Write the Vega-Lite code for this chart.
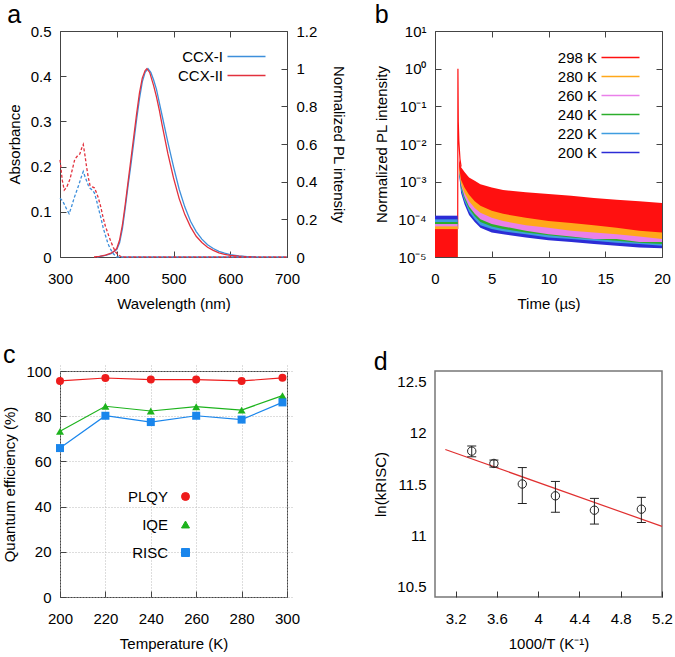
{
  "$schema": "https://vega.github.io/schema/vega-lite/v6.json",
  "background": "white",
  "padding": {"left": 2, "top": 2, "right": 0, "bottom": 0},
  "columns": 2,
  "spacing": {"row": 30, "column": 26},
  "resolve": {"scale": {"color": "independent", "shape": "independent", "fill": "independent", "stroke": "independent"}},
  "config": {
    "font": "Liberation Sans",
    "view": {"stroke": "#444", "strokeWidth": 1},
    "title": {"fontSize": 25, "fontWeight": "normal", "anchor": "start", "frame": "bounds", "offset": -4, "color": "#000"},
    "axis": {"domain": false, "grid": false, "tickColor": "#444", "tickSize": 6, "offset": -6, "tickWidth": 1, "labelFontSize": 15, "titleFontSize": 15, "titleFontWeight": "normal", "labelColor": "#000", "titleColor": "#000", "labelFlush": false, "labelOverlap": false, "labelPadding": 9, "titlePadding": 8},
    "axisX": {"labelPadding": 14, "titlePadding": 10},
    "legend": {"labelFontSize": 15, "labelColor": "#000", "padding": 0}
  },
  "concat": [
    {
      "width": 227, "height": 226,
      "title": {"text": "a"},
      "layer": [
        {
          "data": {"values": [
            {"s":"CCX-I","wl":365,"I":0},{"s":"CCX-I","wl":380,"I":0.008},{"s":"CCX-I","wl":390,"I":0.018},{"s":"CCX-I","wl":400,"I":0.04},{"s":"CCX-I","wl":405,"I":0.075},{"s":"CCX-I","wl":410,"I":0.15},{"s":"CCX-I","wl":415,"I":0.26},{"s":"CCX-I","wl":420,"I":0.38},{"s":"CCX-I","wl":425,"I":0.49},{"s":"CCX-I","wl":430,"I":0.61},{"s":"CCX-I","wl":435,"I":0.73},{"s":"CCX-I","wl":440,"I":0.84},{"s":"CCX-I","wl":445,"I":0.93},{"s":"CCX-I","wl":450,"I":0.98},{"s":"CCX-I","wl":455,"I":1.0},{"s":"CCX-I","wl":460,"I":0.98},{"s":"CCX-I","wl":465,"I":0.94},{"s":"CCX-I","wl":470,"I":0.89},{"s":"CCX-I","wl":475,"I":0.82},{"s":"CCX-I","wl":480,"I":0.75},{"s":"CCX-I","wl":490,"I":0.61},{"s":"CCX-I","wl":500,"I":0.48},{"s":"CCX-I","wl":510,"I":0.36},{"s":"CCX-I","wl":520,"I":0.265},{"s":"CCX-I","wl":530,"I":0.19},{"s":"CCX-I","wl":540,"I":0.135},{"s":"CCX-I","wl":550,"I":0.095},{"s":"CCX-I","wl":560,"I":0.065},{"s":"CCX-I","wl":570,"I":0.045},{"s":"CCX-I","wl":580,"I":0.03},{"s":"CCX-I","wl":590,"I":0.02},{"s":"CCX-I","wl":600,"I":0.013},{"s":"CCX-I","wl":615,"I":0.006},{"s":"CCX-I","wl":630,"I":0.002},{"s":"CCX-I","wl":645,"I":0},
            {"s":"CCX-II","wl":360,"I":0},{"s":"CCX-II","wl":370,"I":0.003},{"s":"CCX-II","wl":380,"I":0.01},{"s":"CCX-II","wl":390,"I":0.02},{"s":"CCX-II","wl":395,"I":0.03},{"s":"CCX-II","wl":400,"I":0.045},{"s":"CCX-II","wl":405,"I":0.09},{"s":"CCX-II","wl":410,"I":0.17},{"s":"CCX-II","wl":415,"I":0.28},{"s":"CCX-II","wl":420,"I":0.4},{"s":"CCX-II","wl":425,"I":0.52},{"s":"CCX-II","wl":430,"I":0.64},{"s":"CCX-II","wl":435,"I":0.76},{"s":"CCX-II","wl":440,"I":0.87},{"s":"CCX-II","wl":445,"I":0.95},{"s":"CCX-II","wl":450,"I":0.99},{"s":"CCX-II","wl":453,"I":1.0},{"s":"CCX-II","wl":458,"I":0.98},{"s":"CCX-II","wl":465,"I":0.91},{"s":"CCX-II","wl":470,"I":0.85},{"s":"CCX-II","wl":475,"I":0.78},{"s":"CCX-II","wl":480,"I":0.7},{"s":"CCX-II","wl":490,"I":0.55},{"s":"CCX-II","wl":500,"I":0.42},{"s":"CCX-II","wl":510,"I":0.31},{"s":"CCX-II","wl":520,"I":0.225},{"s":"CCX-II","wl":530,"I":0.16},{"s":"CCX-II","wl":540,"I":0.11},{"s":"CCX-II","wl":550,"I":0.077},{"s":"CCX-II","wl":560,"I":0.052},{"s":"CCX-II","wl":570,"I":0.035},{"s":"CCX-II","wl":580,"I":0.022},{"s":"CCX-II","wl":590,"I":0.014},{"s":"CCX-II","wl":600,"I":0.009},{"s":"CCX-II","wl":615,"I":0.004},{"s":"CCX-II","wl":630,"I":0.001},{"s":"CCX-II","wl":640,"I":0}
          ]},
          "mark": {"type": "line", "strokeWidth": 1.3},
          "encoding": {
            "x": {"field": "wl", "type": "quantitative", "scale": {"domain": [300, 700]}, "axis": {"values": [300, 400, 500, 600, 700], "title": "Wavelength (nm)"}},
            "y": {"field": "I", "type": "quantitative", "scale": {"domain": [0, 1.2]}, "axis": {"orient": "right", "values": [0, 0.2, 0.4, 0.6, 0.8, 1, 1.2], "title": "Normalized PL intensity", "titlePadding": 14, "labelExpr": "'' + datum.value"}},
            "color": {"field": "s", "type": "nominal", "scale": {"domain": ["CCX-I", "CCX-II"], "range": ["#3d8fdb", "#e2313d"]},
              "legend": {"orient": "top-right", "offset": 18, "title": null, "symbolType": "M-3.8,0L3.8,0", "symbolSize": 100, "symbolStrokeWidth": 1.5, "labelAlign": "right", "labelOffset": -31, "rowPadding": 3}}
          }
        },
        {
          "data": {"values": [
            {"s":"CCX-I","wl":300,"A":0.13},{"s":"CCX-I","wl":304,"A":0.125},{"s":"CCX-I","wl":307.5,"A":0.117},{"s":"CCX-I","wl":312,"A":0.105},{"s":"CCX-I","wl":316,"A":0.096},{"s":"CCX-I","wl":320,"A":0.11},{"s":"CCX-I","wl":325,"A":0.131},{"s":"CCX-I","wl":329,"A":0.145},{"s":"CCX-I","wl":333.5,"A":0.161},{"s":"CCX-I","wl":337,"A":0.175},{"s":"CCX-I","wl":341,"A":0.189},{"s":"CCX-I","wl":344,"A":0.178},{"s":"CCX-I","wl":347,"A":0.168},{"s":"CCX-I","wl":350,"A":0.158},{"s":"CCX-I","wl":353,"A":0.152},{"s":"CCX-I","wl":357,"A":0.148},{"s":"CCX-I","wl":360.5,"A":0.142},{"s":"CCX-I","wl":364,"A":0.127},{"s":"CCX-I","wl":367.5,"A":0.109},{"s":"CCX-I","wl":372,"A":0.087},{"s":"CCX-I","wl":376,"A":0.065},{"s":"CCX-I","wl":380,"A":0.048},{"s":"CCX-I","wl":385,"A":0.028},{"s":"CCX-I","wl":390,"A":0.015},{"s":"CCX-I","wl":394,"A":0.007},{"s":"CCX-I","wl":400,"A":0},{"s":"CCX-I","wl":500,"A":0},{"s":"CCX-I","wl":700,"A":0},
            {"s":"CCX-II","wl":300,"A":0.215},{"s":"CCX-II","wl":304,"A":0.17},{"s":"CCX-II","wl":307.5,"A":0.148},{"s":"CCX-II","wl":312,"A":0.155},{"s":"CCX-II","wl":317.5,"A":0.172},{"s":"CCX-II","wl":322,"A":0.195},{"s":"CCX-II","wl":326,"A":0.216},{"s":"CCX-II","wl":331,"A":0.224},{"s":"CCX-II","wl":335,"A":0.228},{"s":"CCX-II","wl":338,"A":0.24},{"s":"CCX-II","wl":341,"A":0.249},{"s":"CCX-II","wl":344,"A":0.225},{"s":"CCX-II","wl":347,"A":0.198},{"s":"CCX-II","wl":350,"A":0.175},{"s":"CCX-II","wl":353,"A":0.158},{"s":"CCX-II","wl":357,"A":0.155},{"s":"CCX-II","wl":360.5,"A":0.153},{"s":"CCX-II","wl":364,"A":0.143},{"s":"CCX-II","wl":367.5,"A":0.131},{"s":"CCX-II","wl":372,"A":0.11},{"s":"CCX-II","wl":376,"A":0.087},{"s":"CCX-II","wl":380,"A":0.068},{"s":"CCX-II","wl":385,"A":0.05},{"s":"CCX-II","wl":390,"A":0.033},{"s":"CCX-II","wl":394,"A":0.021},{"s":"CCX-II","wl":398,"A":0.011},{"s":"CCX-II","wl":403,"A":0.004},{"s":"CCX-II","wl":409,"A":0},{"s":"CCX-II","wl":500,"A":0},{"s":"CCX-II","wl":700,"A":0}
          ]},
          "mark": {"type": "line", "strokeDash": [3, 2], "strokeWidth": 1.3},
          "encoding": {
            "x": {"field": "wl", "type": "quantitative", "axis": {"orient": "top", "values": [300, 400, 500, 600, 700], "labels": false, "title": null}},
            "y": {"field": "A", "type": "quantitative", "scale": {"domain": [0, 0.5]}, "axis": {"orient": "left", "values": [0, 0.1, 0.2, 0.3, 0.4, 0.5], "title": "Absorbance", "labelExpr": "'' + datum.value"}},
            "color": {"field": "s", "type": "nominal",
              "legend": {"orient": "top-right", "offset": 18, "title": null, "symbolType": "M-3.8,0L3.8,0", "symbolSize": 100, "symbolStrokeWidth": 1.5, "labelAlign": "right", "labelOffset": -31, "rowPadding": 3}}
          }
        }
      ],
      "resolve": {"scale": {"y": "independent"}, "axis": {"x": "independent"}}
    },
    {
      "width": 227, "height": 226,
      "title": {"text": "b"},
      "layer": [
        {
          "data": {"values": [
            {"s":"298 K","t":2.0,"v":5.5e-5},{"s":"298 K","t":2.02,"v":1.0},{"s":"298 K","t":2.05,"v":0.04},{"s":"298 K","t":2.1,"v":0.012},{"s":"298 K","t":2.2,"v":0.004},{"s":"298 K","t":2.3,"v":0.0025}
          ]},
          "mark": {"type": "line", "strokeWidth": 1.2},
          "encoding": {
            "x": {"field": "t", "type": "quantitative", "scale": {"domain": [0, 20]}, "axis": {"values": [0, 5, 10, 15, 20], "title": "Time (µs)"}},
            "y": {"field": "v", "type": "quantitative", "scale": {"type": "log", "domain": [0.00001, 10]}, "axis": {"values": [0.00001, 0.0001, 0.001, 0.01, 0.1, 1, 10], "title": "Normalized PL intensity", "labelExpr": "['10⁻⁵','10⁻⁴','10⁻³','10⁻²','10⁻¹','10⁰','10¹'][round(log(datum.value)/LN10)+5]"}},
            "color": {"field": "s", "type": "nominal", "scale": {"domain": ["298 K", "280 K", "260 K", "240 K", "220 K", "200 K"], "range": ["#ff1010", "#ffa81a", "#ea80ea", "#2cae2c", "#3f9de0", "#2c2cd6"]},
              "legend": {"orient": "top-right", "offset": 19, "title": null, "symbolType": "M-3.8,0L3.8,0", "symbolSize": 100, "symbolStrokeWidth": 1.5, "labelAlign": "right", "labelOffset": -31, "rowPadding": 3}}
          }
        },
        {
          "data": {"values": [
            {"s":"200 K","seg":"p","t":0,"lo":1e-5,"hi":1.25e-4},{"s":"200 K","seg":"p","t":2.0,"lo":1e-5,"hi":1.25e-4},
            {"s":"200 K","seg":"d","t":2.12,"lo":1.6e-3,"hi":2.6e-3},{"s":"200 K","seg":"d","t":2.3,"lo":5e-4,"hi":1.7e-3},{"s":"200 K","seg":"d","t":2.6,"lo":2.5e-4,"hi":1.1e-3},{"s":"200 K","seg":"d","t":3,"lo":1.3e-4,"hi":7e-4},{"s":"200 K","seg":"d","t":3.5,"lo":8.5e-5,"hi":4.5e-4},{"s":"200 K","seg":"d","t":4,"lo":6e-5,"hi":3.3e-4},{"s":"200 K","seg":"d","t":5,"lo":4.5e-5,"hi":2.3e-4},{"s":"200 K","seg":"d","t":6,"lo":4e-5,"hi":2e-4},{"s":"200 K","seg":"d","t":8,"lo":3.3e-5,"hi":1.7e-4},{"s":"200 K","seg":"d","t":10,"lo":2.8e-5,"hi":1.55e-4},{"s":"200 K","seg":"d","t":12,"lo":2.5e-5,"hi":1.45e-4},{"s":"200 K","seg":"d","t":14,"lo":2.2e-5,"hi":1.4e-4},{"s":"200 K","seg":"d","t":16,"lo":2e-5,"hi":1.35e-4},{"s":"200 K","seg":"d","t":18,"lo":1.8e-5,"hi":1.3e-4},{"s":"200 K","seg":"d","t":20,"lo":1.7e-5,"hi":1.25e-4},
            {"s":"220 K","seg":"p","t":0,"lo":1e-5,"hi":1e-4},{"s":"220 K","seg":"p","t":2.0,"lo":1e-5,"hi":1e-4},
            {"s":"220 K","seg":"d","t":2.12,"lo":1.7e-3,"hi":2.7e-3},{"s":"220 K","seg":"d","t":2.3,"lo":6e-4,"hi":1.8e-3},{"s":"220 K","seg":"d","t":2.6,"lo":3e-4,"hi":1.2e-3},{"s":"220 K","seg":"d","t":3,"lo":1.6e-4,"hi":8e-4},{"s":"220 K","seg":"d","t":3.5,"lo":1e-4,"hi":5e-4},{"s":"220 K","seg":"d","t":4,"lo":7e-5,"hi":3.8e-4},{"s":"220 K","seg":"d","t":5,"lo":5.5e-5,"hi":2.6e-4},{"s":"220 K","seg":"d","t":6,"lo":4.8e-5,"hi":2.2e-4},{"s":"220 K","seg":"d","t":8,"lo":4e-5,"hi":1.9e-4},{"s":"220 K","seg":"d","t":10,"lo":3.3e-5,"hi":1.7e-4},{"s":"220 K","seg":"d","t":12,"lo":3e-5,"hi":1.6e-4},{"s":"220 K","seg":"d","t":14,"lo":2.7e-5,"hi":1.5e-4},{"s":"220 K","seg":"d","t":16,"lo":2.4e-5,"hi":1.45e-4},{"s":"220 K","seg":"d","t":18,"lo":2.2e-5,"hi":1.4e-4},{"s":"220 K","seg":"d","t":20,"lo":2e-5,"hi":1.35e-4},
            {"s":"240 K","seg":"p","t":0,"lo":1e-5,"hi":8.5e-5},{"s":"240 K","seg":"p","t":2.0,"lo":1e-5,"hi":8.5e-5},
            {"s":"240 K","seg":"d","t":2.12,"lo":1.8e-3,"hi":2.8e-3},{"s":"240 K","seg":"d","t":2.3,"lo":7e-4,"hi":1.9e-3},{"s":"240 K","seg":"d","t":2.6,"lo":3.5e-4,"hi":1.3e-3},{"s":"240 K","seg":"d","t":3,"lo":1.9e-4,"hi":9e-4},{"s":"240 K","seg":"d","t":3.5,"lo":1.2e-4,"hi":6e-4},{"s":"240 K","seg":"d","t":4,"lo":8.5e-5,"hi":4.5e-4},{"s":"240 K","seg":"d","t":5,"lo":6.5e-5,"hi":3e-4},{"s":"240 K","seg":"d","t":6,"lo":5.5e-5,"hi":2.6e-4},{"s":"240 K","seg":"d","t":8,"lo":4.5e-5,"hi":2.2e-4},{"s":"240 K","seg":"d","t":10,"lo":3.8e-5,"hi":2e-4},{"s":"240 K","seg":"d","t":12,"lo":3.3e-5,"hi":1.8e-4},{"s":"240 K","seg":"d","t":14,"lo":3e-5,"hi":1.7e-4},{"s":"240 K","seg":"d","t":16,"lo":2.7e-5,"hi":1.6e-4},{"s":"240 K","seg":"d","t":18,"lo":2.4e-5,"hi":1.55e-4},{"s":"240 K","seg":"d","t":20,"lo":2.2e-5,"hi":1.5e-4},
            {"s":"260 K","seg":"p","t":0,"lo":1e-5,"hi":7.5e-5},{"s":"260 K","seg":"p","t":2.0,"lo":1e-5,"hi":7.5e-5},
            {"s":"260 K","seg":"d","t":2.12,"lo":2e-3,"hi":3e-3},{"s":"260 K","seg":"d","t":2.3,"lo":8e-4,"hi":2e-3},{"s":"260 K","seg":"d","t":2.6,"lo":4e-4,"hi":1.4e-3},{"s":"260 K","seg":"d","t":3,"lo":2.2e-4,"hi":1e-3},{"s":"260 K","seg":"d","t":3.5,"lo":1.4e-4,"hi":7e-4},{"s":"260 K","seg":"d","t":4,"lo":1e-4,"hi":5e-4},{"s":"260 K","seg":"d","t":5,"lo":7.5e-5,"hi":3.5e-4},{"s":"260 K","seg":"d","t":6,"lo":6.5e-5,"hi":3e-4},{"s":"260 K","seg":"d","t":8,"lo":5e-5,"hi":2.5e-4},{"s":"260 K","seg":"d","t":10,"lo":4e-5,"hi":2.2e-4},{"s":"260 K","seg":"d","t":12,"lo":3.5e-5,"hi":2e-4},{"s":"260 K","seg":"d","t":14,"lo":3e-5,"hi":1.9e-4},{"s":"260 K","seg":"d","t":16,"lo":3e-5,"hi":1.8e-4},{"s":"260 K","seg":"d","t":18,"lo":2.5e-5,"hi":1.7e-4},{"s":"260 K","seg":"d","t":20,"lo":2.5e-5,"hi":1.6e-4},
            {"s":"280 K","seg":"p","t":0,"lo":1e-5,"hi":6.5e-5},{"s":"280 K","seg":"p","t":2.0,"lo":1e-5,"hi":6.5e-5},
            {"s":"280 K","seg":"d","t":2.12,"lo":2e-3,"hi":3e-3},{"s":"280 K","seg":"d","t":2.3,"lo":9e-4,"hi":2.2e-3},{"s":"280 K","seg":"d","t":2.6,"lo":5e-4,"hi":1.6e-3},{"s":"280 K","seg":"d","t":3,"lo":3e-4,"hi":1.2e-3},{"s":"280 K","seg":"d","t":3.5,"lo":2e-4,"hi":9e-4},{"s":"280 K","seg":"d","t":4,"lo":1.5e-4,"hi":7e-4},{"s":"280 K","seg":"d","t":5,"lo":1.1e-4,"hi":5.5e-4},{"s":"280 K","seg":"d","t":6,"lo":9e-5,"hi":4.5e-4},{"s":"280 K","seg":"d","t":8,"lo":7e-5,"hi":4e-4},{"s":"280 K","seg":"d","t":10,"lo":6e-5,"hi":3.5e-4},{"s":"280 K","seg":"d","t":12,"lo":5e-5,"hi":3.2e-4},{"s":"280 K","seg":"d","t":14,"lo":4.5e-5,"hi":3e-4},{"s":"280 K","seg":"d","t":16,"lo":4e-5,"hi":2.8e-4},{"s":"280 K","seg":"d","t":18,"lo":3.5e-5,"hi":2.6e-4},{"s":"280 K","seg":"d","t":20,"lo":3e-5,"hi":2.5e-4},
            {"s":"298 K","seg":"p","t":0,"lo":1e-5,"hi":5.5e-5},{"s":"298 K","seg":"p","t":2.0,"lo":1e-5,"hi":5.5e-5},
            {"s":"298 K","seg":"d","t":2.12,"lo":2.5e-3,"hi":4e-3},{"s":"298 K","seg":"d","t":2.3,"lo":1.1e-3,"hi":2.4e-3},{"s":"298 K","seg":"d","t":2.6,"lo":7e-4,"hi":1.8e-3},{"s":"298 K","seg":"d","t":3,"lo":4.5e-4,"hi":1.3e-3},{"s":"298 K","seg":"d","t":3.5,"lo":3e-4,"hi":1.05e-3},{"s":"298 K","seg":"d","t":4,"lo":2.3e-4,"hi":8.5e-4},{"s":"298 K","seg":"d","t":5,"lo":1.7e-4,"hi":7e-4},{"s":"298 K","seg":"d","t":6,"lo":1.4e-4,"hi":6e-4},{"s":"298 K","seg":"d","t":8,"lo":1.1e-4,"hi":5.2e-4},{"s":"298 K","seg":"d","t":10,"lo":9e-5,"hi":4.7e-4},{"s":"298 K","seg":"d","t":12,"lo":8e-5,"hi":4.2e-4},{"s":"298 K","seg":"d","t":14,"lo":7e-5,"hi":3.7e-4},{"s":"298 K","seg":"d","t":16,"lo":6e-5,"hi":3.3e-4},{"s":"298 K","seg":"d","t":18,"lo":5e-5,"hi":3e-4},{"s":"298 K","seg":"d","t":20,"lo":4.5e-5,"hi":2.7e-4}
          ]},
          "mark": {"type": "area", "opacity": 1, "interpolate": "linear"},
          "encoding": {
            "x": {"field": "t", "type": "quantitative", "axis": {"orient": "top", "values": [0, 5, 10, 15, 20], "labels": false, "title": null}},
            "y": {"field": "lo", "type": "quantitative", "axis": {"orient": "right", "values": [0.00001, 0.0001, 0.001, 0.01, 0.1, 1, 10], "labels": false, "title": null}},
            "y2": {"field": "hi"},
            "color": {"field": "s", "type": "nominal",
              "legend": {"orient": "top-right", "offset": 19, "title": null, "symbolType": "M-3.8,0L3.8,0", "symbolSize": 100, "symbolStrokeWidth": 1.5, "labelAlign": "right", "labelOffset": -31, "rowPadding": 3}},
            "detail": {"field": "seg", "type": "nominal"}
          }
        }
      ],
      "resolve": {"axis": {"x": "independent", "y": "independent"}}
    },
    {
      "width": 227, "height": 226,
      "title": {"text": "c"},
      "data": {"values": [
        {"s":"PLQY","T":200,"v":95.6},{"s":"PLQY","T":220,"v":96.9},{"s":"PLQY","T":240,"v":96.2},{"s":"PLQY","T":260,"v":96.2},{"s":"PLQY","T":280,"v":95.6},{"s":"PLQY","T":298,"v":97.0},
        {"s":"IQE","T":200,"v":73.3},{"s":"IQE","T":220,"v":84.4},{"s":"IQE","T":240,"v":82.3},{"s":"IQE","T":260,"v":84.2},{"s":"IQE","T":280,"v":82.7},{"s":"IQE","T":298,"v":89.1},
        {"s":"RISC","T":200,"v":65.9},{"s":"RISC","T":220,"v":80.2},{"s":"RISC","T":240,"v":77.4},{"s":"RISC","T":260,"v":80.2},{"s":"RISC","T":280,"v":78.5},{"s":"RISC","T":298,"v":86.1}
      ]},
      "layer": [
        {
          "mark": {"type": "line", "strokeWidth": 1.2},
          "encoding": {
            "x": {"field": "T", "type": "quantitative", "scale": {"domain": [200, 300]}, "axis": {"values": [200, 220, 240, 260, 280, 300], "title": "Temperature (K)", "grid": true, "gridColor": "#bbb", "gridDash": [1, 2]}},
            "y": {"field": "v", "type": "quantitative", "scale": {"domain": [0, 100]}, "axis": {"values": [0, 20, 40, 60, 80, 100], "title": "Quantum efficiency (%)", "grid": true, "gridColor": "#bbb", "gridDash": [1, 2]}},
            "color": {"field": "s", "type": "nominal", "scale": {"domain": ["PLQY", "IQE", "RISC"], "range": ["#ee1c1c", "#1db31d", "#1a86ec"]},
              "legend": {"orient": "none", "legendX": 118, "legendY": 118, "title": null, "symbolSize": 64, "labelAlign": "right", "labelOffset": -25, "rowPadding": 12,
                "encode": {"symbols": {"update": {
                  "shape": {"value": {"expr": "datum.value === 'PLQY' ? 'M-4.5,0L4.5,0M1,0A1,1,0,1,1,-1,0A1,1,0,1,1,1,0Z' : datum.value === 'IQE' ? 'M-4.5,0L4.5,0M0,-1.1L1.2,0.9L-1.2,0.9Z' : 'M-4.5,0L4.5,0M-1,-1L1,-1L1,1L-1,1Z'"}},
                  "stroke": {"value": {"expr": "datum.value === 'PLQY' ? '#ee1c1c' : datum.value === 'IQE' ? '#1db31d' : '#1a86ec'"}},
                  "fill": {"value": {"expr": "datum.value === 'PLQY' ? '#ee1c1c' : datum.value === 'IQE' ? '#1db31d' : '#1a86ec'"}},
                  "strokeWidth": {"value": 1}, "opacity": {"value": 1}
                }}}}}
          }
        },
        {
          "mark": {"type": "point", "filled": true, "size": 64, "opacity": 1},
          "encoding": {
            "x": {"field": "T", "type": "quantitative"},
            "y": {"field": "v", "type": "quantitative"},
            "shape": {"field": "s", "type": "nominal", "scale": {"domain": ["PLQY", "IQE", "RISC"], "range": ["circle", "triangle-up", "square"]}, "legend": null},
            "color": {"field": "s", "type": "nominal",
              "legend": {"orient": "none", "legendX": 118, "legendY": 118, "title": null, "symbolSize": 64, "labelAlign": "right", "labelOffset": -25, "rowPadding": 12,
                "encode": {"symbols": {"update": {
                  "shape": {"value": {"expr": "datum.value === 'PLQY' ? 'M-4.5,0L4.5,0M1,0A1,1,0,1,1,-1,0A1,1,0,1,1,1,0Z' : datum.value === 'IQE' ? 'M-4.5,0L4.5,0M0,-1.1L1.2,0.9L-1.2,0.9Z' : 'M-4.5,0L4.5,0M-1,-1L1,-1L1,1L-1,1Z'"}},
                  "stroke": {"value": {"expr": "datum.value === 'PLQY' ? '#ee1c1c' : datum.value === 'IQE' ? '#1db31d' : '#1a86ec'"}},
                  "fill": {"value": {"expr": "datum.value === 'PLQY' ? '#ee1c1c' : datum.value === 'IQE' ? '#1db31d' : '#1a86ec'"}},
                  "strokeWidth": {"value": 1}, "opacity": {"value": 1}
                }}}}}
          }
        }
      ]
    },
    {
      "width": 227, "height": 226,
      "title": {"text": "d"},
      "view": {"stroke": "#777", "strokeWidth": 1.5},
      "layer": [
        {
          "data": {"values": [{"x": 3.1, "y": 11.836}, {"x": 5.2, "y": 11.087}]},
          "mark": {"type": "line", "color": "#e03030", "strokeWidth": 1.2},
          "encoding": {
            "x": {"field": "x", "type": "quantitative", "scale": {"domain": [3.1, 5.2]}, "axis": {"values": [3.2, 3.6, 4, 4.4, 4.8, 5.2], "title": "1000/T (K⁻¹)", "labelExpr": "'' + datum.value", "tickColor": "#333"}},
            "y": {"field": "y", "type": "quantitative", "scale": {"domain": [10.5, 12.5]}, "axis": {"values": [10.5, 11, 11.5, 12, 12.5], "title": "ln(kRISC)", "labelExpr": "'' + datum.value", "ticks": false, "offset": 0, "labelPadding": 9}}
          }
        },
        {
          "data": {"values": [
            {"x": 3.356, "y": 11.82, "lo": 11.765, "hi": 11.87},
            {"x": 3.571, "y": 11.70, "lo": 11.665, "hi": 11.733},
            {"x": 3.846, "y": 11.50, "lo": 11.31, "hi": 11.66},
            {"x": 4.167, "y": 11.385, "lo": 11.225, "hi": 11.525},
            {"x": 4.545, "y": 11.245, "lo": 11.11, "hi": 11.36},
            {"x": 5.0, "y": 11.255, "lo": 11.125, "hi": 11.37}
          ]},
          "layer": [
            {"mark": {"type": "rule", "color": "#222", "strokeWidth": 1}, "encoding": {"x": {"field": "x", "type": "quantitative"}, "y": {"field": "lo", "type": "quantitative"}, "y2": {"field": "hi"}}},
            {"mark": {"type": "tick", "orient": "horizontal", "size": 9, "thickness": 1, "color": "#222", "opacity": 1}, "encoding": {"x": {"field": "x", "type": "quantitative"}, "y": {"field": "lo", "type": "quantitative"}}},
            {"mark": {"type": "tick", "orient": "horizontal", "size": 9, "thickness": 1, "color": "#222", "opacity": 1}, "encoding": {"x": {"field": "x", "type": "quantitative"}, "y": {"field": "hi", "type": "quantitative"}}},
            {"mark": {"type": "point", "shape": "circle", "filled": false, "size": 70, "color": "#222", "strokeWidth": 1, "opacity": 1}, "encoding": {"x": {"field": "x", "type": "quantitative"}, "y": {"field": "y", "type": "quantitative"}}}
          ]
        }
      ]
    }
  ]
}
